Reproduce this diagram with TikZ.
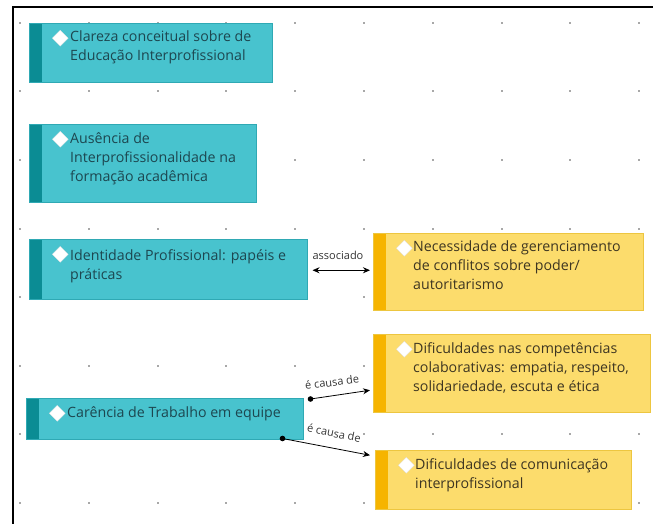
\documentclass[tikz,border=0pt]{standalone}
\usepackage{fontspec}
\setmainfont{Open Sans}
\usetikzlibrary{arrows.meta,calc}

\definecolor{tealfill}{HTML}{48C3CE}
\definecolor{tealstrip}{HTML}{0B8C94}
\definecolor{tealedge}{HTML}{2FA9B4}
\definecolor{yellowfill}{HTML}{FCDC6C}
\definecolor{yellowstrip}{HTML}{F6B400}
\definecolor{yellowedge}{HTML}{EDC640}
\definecolor{dotgray}{HTML}{A8A8A8}
\definecolor{textteal}{HTML}{1D4750}
\definecolor{textbrown}{HTML}{3E3622}

\tikzset{
  concept/.style={
    rectangle, anchor=north west, inner sep=0pt, line width=0.5pt,
    fill=#1fill, draw=#1edge,
    path picture={
      \fill[#1strip] (path picture bounding box.north west) rectangle
        ($(path picture bounding box.south west)+(13,0)$);
      \fill[white, draw=white!85!black, line width=0.3pt]
        ($(path picture bounding box.north west)+(31,7)$) --
        ($(path picture bounding box.north west)+(39,15)$) --
        ($(path picture bounding box.north west)+(31,23)$) --
        ($(path picture bounding box.north west)+(23,15)$) -- cycle;
    }
  },
  concept text/.style={
    anchor=north west, inner sep=0pt, align=left,
    font=\fontsize{14.2}{19}\selectfont, text=#1
  },
  link label/.style={font=\fontsize{11}{12}\selectfont, text=black!80, inner sep=1pt}
}

\begin{document}
\begin{tikzpicture}[x=1pt, y=-1pt]
  \useasboundingbox (0,0) rectangle (653,524);
  % grid dots
  \foreach \i in {0,...,9}
    \foreach \j in {0,...,7}
      \fill[dotgray] (20+68.8*\i-1,23+68.5*\j-1) rectangle ++(2,2);
  % frame
  \draw[line width=2pt] (12.5,524) -- (12.5,7) -- (653,7);

  % teal concepts
  \node[concept=teal, minimum width=243pt, minimum height=59pt] (C_1) at (29,23) {};
  \node[concept text=textteal] (C_1t) at ($(C_1.north west)+(41,8)$)
    {Clareza conceitual sobre de\\Educação Interprofissional};
  \node[concept=teal, minimum width=227pt, minimum height=78pt] (C_2) at (29,124) {};
  \node[concept text=textteal] (C_2t) at ($(C_2.north west)+(41,8)$)
    {Ausência de\\Interprofissionalidade na\\formação acadêmica};
  \node[concept=teal, minimum width=278pt, minimum height=60pt] (C_3) at (29,239) {};
  \node[concept text=textteal] (C_3t) at ($(C_3.north west)+(41,10)$)
    {Identidade Profissional: papéis e\\práticas};
  \node[concept=teal, minimum width=277pt, minimum height=41pt] (C_4) at (26,398) {};
  \node[concept text=textteal] (C_4t) at ($(C_4.north west)+(41,8)$)
    {Carência de Trabalho em equipe};

  % yellow concepts
  \node[concept=yellow, minimum width=270pt, minimum height=77pt] (Y_1) at (373,233) {};
  \node[concept text=textbrown] (Y_1t) at ($(Y_1.north west)+(40,8)$)
    {Necessidade de gerenciamento\\de conflitos sobre poder/\\autoritarismo};
  \node[concept=yellow, minimum width=277pt, minimum height=78pt] (Y_2) at (373,334) {};
  \node[concept text=textbrown] (Y_2t) at ($(Y_2.north west)+(40,8)$)
    {Dificuldades nas competências\\colaborativas: empatia, respeito,\\solidariedade, escuta e ética};
  \node[concept=yellow, minimum width=256pt, minimum height=59pt] (Y_3) at (375,450) {};
  \node[concept text=textbrown] (Y_3t) at ($(Y_3.north west)+(40,8)$)
    {Dificuldades de comunicação\\interprofissional};

  % links
  \draw[{Stealth[length=7pt,width=6pt]}-{Stealth[length=7pt,width=6pt]}, line width=0.8pt]
    ($(C_3.east)+(5,1)$) coordinate (a_1) -- ($(Y_1.west |- a_1)+(-3,0)$);
  \node[link label] (L_1) at (338,255) {associado};

  \draw[-{Stealth[length=7pt,width=6pt]}, line width=0.8pt]
    ($(C_4.north east)+(7,1)$) coordinate (s_1) -- ($(Y_2.west)+(-3,17)$);
  \fill (s_1) circle (2.8pt);
  \node[link label, rotate=8] (L_2) at (332,382) {é causa de};

  \draw[-{Stealth[length=7pt,width=6pt]}, line width=0.8pt]
    ($(C_4.south east)+(-21,-1)$) coordinate (s_2) -- ($(Y_3.west)+(-5,-24.5)$);
  \fill (s_2) circle (2.8pt);
  \node[link label, rotate=-11] (L_3) at (334,433) {é causa de};
\end{tikzpicture}
\end{document}
